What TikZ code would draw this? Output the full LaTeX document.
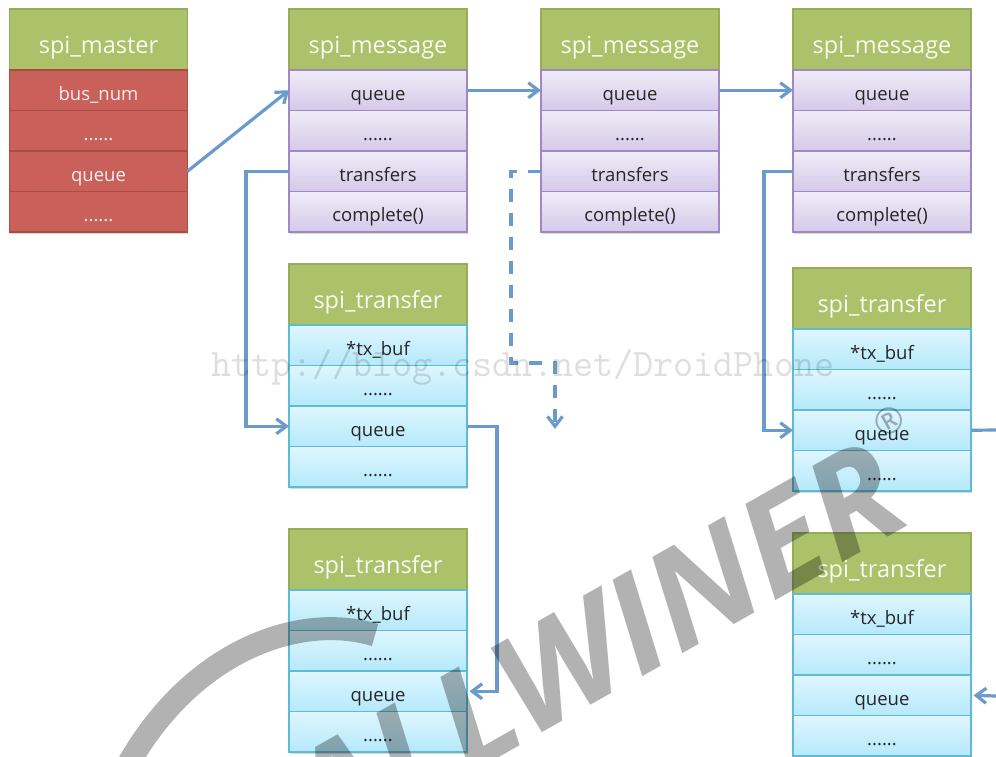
\documentclass[tikz,border=0pt]{standalone}
\usepackage{fontspec}
\setmainfont{Open Sans}
\newfontfamily\markfont[FakeStretch=1.03]{Open Sans}
\usetikzlibrary{arrows.meta, positioning, shadows}
\definecolor{linkblue}{HTML}{6A9BCB}
\definecolor{headgreen}{HTML}{ABC26A}
\definecolor{headedge}{HTML}{97AC58}
\definecolor{masterred}{HTML}{C9605A}
\definecolor{masteredge}{HTML}{A94C46}
\definecolor{msgedge}{HTML}{A088C2}
\definecolor{xferedge}{HTML}{5FBBD2}
\definecolor{msgtop}{HTML}{F0ECF7}
\definecolor{msgbot}{HTML}{D5C9E9}
\definecolor{xfertop}{HTML}{DFF6FE}
\definecolor{xferbot}{HTML}{B5E9FB}
\tikzset{
  cell/.style={draw, line width=1.6pt, inner sep=0pt, outer sep=0pt, minimum width=178pt,
    align=center, text height=30pt, text depth=10.5pt, font=\fontsize{18.5}{19}\selectfont,
    drop shadow={shadow xshift=0.6pt, shadow yshift=-2pt, opacity=0.3}},
  headcell/.style={cell, draw=headedge, fill=headgreen, text=white!92!headgreen,
    text height=44pt, text depth=17pt, font=\fontsize{23.5}{25}\selectfont},
  mastercell/.style={cell, draw=masteredge, fill=masterred, text=white!90!masterred},
  msgcell/.style={cell, draw=msgedge, top color=msgtop, bottom color=msgbot, text=black!85},
  xfercell/.style={cell, draw=xferedge, top color=xfertop, bottom color=xferbot, text=black!85},
  plainlink/.style={draw=linkblue, line width=3.2pt},
  link/.style={plainlink, -{Straight Barb[length=10pt, width=15pt]}},
  dashlink/.style={link, dash pattern=on 13pt off 11pt}
}
\begin{document}
\begin{tikzpicture}[x=1pt, y=-1pt]
  \useasboundingbox (0,0) rectangle (996,756);

  % spi_master
  \node[headcell] (master) at (98.5,39.5) {spi\_master};
  \node[mastercell, below=0pt of master] (masterbus) {bus\_num};
  \node[mastercell, below=0pt of masterbus] (masterdots) {......};
  \node[mastercell, below=0pt of masterdots] (masterqueue) {queue};
  \node[mastercell, below=0pt of masterqueue] (masterend) {......};

  % spi_message chain
  \foreach \name/\xpos in {msga/378, msgb/630, msgc/882} {
    \node[headcell] (\name) at (\xpos,39.5) {spi\_message};
    \node[msgcell, below=0pt of \name] (\name queue) {queue};
    \node[msgcell, below=0pt of \name queue] (\name dots) {......};
    \node[msgcell, below=0pt of \name dots] (\name xfers) {transfers};
    \node[msgcell, below=0pt of \name xfers] (\name done) {complete()};
  }

  % spi_transfer boxes
  \foreach \name/\xpos/\ypos in {xfera/378/294.5, xferb/378/559.5, xferc/882/298.5, xferd/882/563.5} {
    \node[headcell] (\name) at (\xpos,\ypos) {spi\_transfer};
    \node[xfercell, below=0pt of \name] (\name buf) {*tx\_buf};
    \node[xfercell, below=0pt of \name buf] (\name dots) {......};
    \node[xfercell, below=0pt of \name dots] (\name queue) {queue};
    \node[xfercell, below=0pt of \name queue] (\name end) {......};
  }

  % Free ends at the right margin and the dangling dashed end
  \coordinate (offright) at (996,430);
  \coordinate (inright) at (996,696);
  \coordinate (dashturn) at (555,363);
  \coordinate (dashend) at (555,429);

  % Queue links
  \draw[link] (masterqueue.east) -- (msgaqueue.west);
  \draw[link] (msgaqueue.east) -- (msgbqueue.west);
  \draw[link] (msgbqueue.east) -- (msgcqueue.west);

  % Transfer links
  \draw[link] (msgaxfers.west) -- ++(-43,0) |- (xferaqueue.west);
  \draw[link, shorten >=2.5pt] (xferaqueue.east) -- ++(30,0) |- (xferbqueue.east);
  \draw[link] (msgcxfers.west) -- ++(-29,0) |- (xfercqueue.west);
  \draw[plainlink] (xfercqueue.east) -- (offright);
  \draw[link, shorten >=2.5pt] (inright) -- (xferdqueue.east);
  \draw[dashlink] (msgbxfers.west) -- ++(-30,0) |- (dashturn) -- (dashend);

  % Watermarks
  \node[font=\ttfamily\fontsize{39}{39}\selectfont, text=black, text opacity=0.13] (csdnmark) at (523,367) {http://blog.csdn.net/DroidPhone};
  \begin{scope}
    \clip (0,0) rectangle (996,756);
    \draw[black, opacity=0.3, line width=23pt] (375,635) .. controls (300,612) and (190,650) .. (125,770);
    \node[font=\markfont\bfseries\itshape\fontsize{138}{138}\selectfont, text=black, text opacity=0.3, rotate=29.5] (allwinermark) at (596,646) {ALLWINER};
    \node[font=\fontsize{36}{36}\selectfont, text=black, text opacity=0.3, rotate=29.5] (regmark) at (889,421) {®};
  \end{scope}
\end{tikzpicture}
\end{document}
